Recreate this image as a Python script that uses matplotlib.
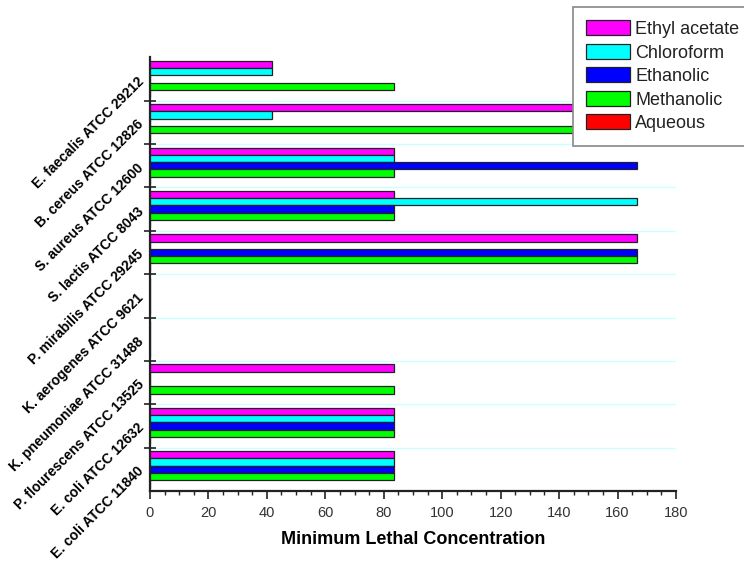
import numpy as np
import matplotlib
matplotlib.use("Agg")
import matplotlib.pyplot as plt

plt.rcParams["font.family"] = ["Liberation Sans", "DejaVu Sans"]

# strains, top to bottom
strains = [
    "E. faecalis ATCC 29212",
    "B. cereus ATCC 12826",
    "S. aureus ATCC 12600",
    "S. lactis ATCC 8043",
    "P. mirabilis ATCC 29245",
    "K. aerogenes ATCC 9621",
    "K. pneumoniae ATCC 31488",
    "P. flourescens ATCC 13525",
    "E. coli ATCC 12632",
    "E. coli ATCC 11840",
]

extracts = ["Ethyl acetate", "Chloroform", "Ethanolic", "Methanolic", "Aqueous"]
colors = ["#ff00ff", "#00ffff", "#0000ff", "#00ff00", "#ff0000"]

ethyl_acetate = [41.67, 166.67, 83.33, 83.33, 166.67, 0, 0, 83.33, 83.33, 83.33]
chloroform = [41.67, 41.67, 83.33, 166.67, 0, 0, 0, 0, 83.33, 83.33]
ethanolic = [0, 0, 166.67, 83.33, 166.67, 0, 0, 0, 83.33, 83.33]
methanolic = [83.33, 166.67, 83.33, 83.33, 166.67, 0, 0, 83.33, 83.33, 83.33]
aqueous = [0, 0, 0, 0, 0, 0, 0, 0, 0, 0]

series = [ethyl_acetate, chloroform, ethanolic, methanolic, aqueous]

fig = plt.figure(figsize=(7.44, 5.79), dpi=100)
ax = fig.add_axes([0.2016, 0.152, 0.707, 0.749])

pos = np.arange(len(strains))
bh = 0.168
for j, (vals, name, col) in enumerate(zip(series, extracts, colors)):
    y = pos - 0.42 + bh * (j + 0.5)
    ax.barh(y, vals, height=bh, color=col, edgecolor="#222222",
            linewidth=0.9, label=name, zorder=3)

ax.set_ylim(len(strains) - 0.5, -0.5)
ax.set_xlim(0, 180)

# light separators between strain groups
for b in pos[:-1] + 0.5:
    ax.axhline(b, color="#ccffff", lw=1.0, zorder=1)

ax.set_yticks(pos)
ax.set_yticklabels(strains, rotation=45, ha="right", va="center",
                   rotation_mode="anchor", fontsize=10, fontweight="bold")
ax.tick_params(axis="y", which="major", length=0, pad=6)
ax.set_yticks(pos[:-1] + 0.5, minor=True)
ax.tick_params(axis="y", which="minor", direction="inout", length=9,
               width=1.2, color="#222222")

ax.set_xticks(np.arange(0, 181, 20))
ax.set_xticks(np.arange(0, 181, 5), minor=True)
ax.tick_params(axis="x", which="major", direction="out", length=6, width=1.2,
               color="#222222", labelsize=10.5, labelcolor="#333333", pad=5)
ax.tick_params(axis="x", which="minor", direction="out", length=3, width=1.0,
               color="#222222")

for s in ("top", "right"):
    ax.spines[s].set_visible(False)
for s in ("left", "bottom"):
    ax.spines[s].set_linewidth(1.6)
    ax.spines[s].set_color("#222222")

ax.set_xlabel("Minimum Lethal Concentration", fontsize=13,
              fontweight="bold", labelpad=8)

# legend box runs off the right edge of the figure
handles, labels = ax.get_legend_handles_labels()
leg = fig.legend(handles, labels, loc="upper left",
                 bbox_to_anchor=(0.770, 0.988), fontsize=13,
                 handlelength=2.4, handleheight=0.9, labelspacing=0.32,
                 handletextpad=0.3, borderpad=0.75, borderaxespad=0.0,
                 fancybox=False, edgecolor="#888888", framealpha=1.0)
leg.get_frame().set_linewidth(1.2)
for t in leg.get_texts():
    t.set_color("#222222")

fig.savefig("out.png", dpi=100)
